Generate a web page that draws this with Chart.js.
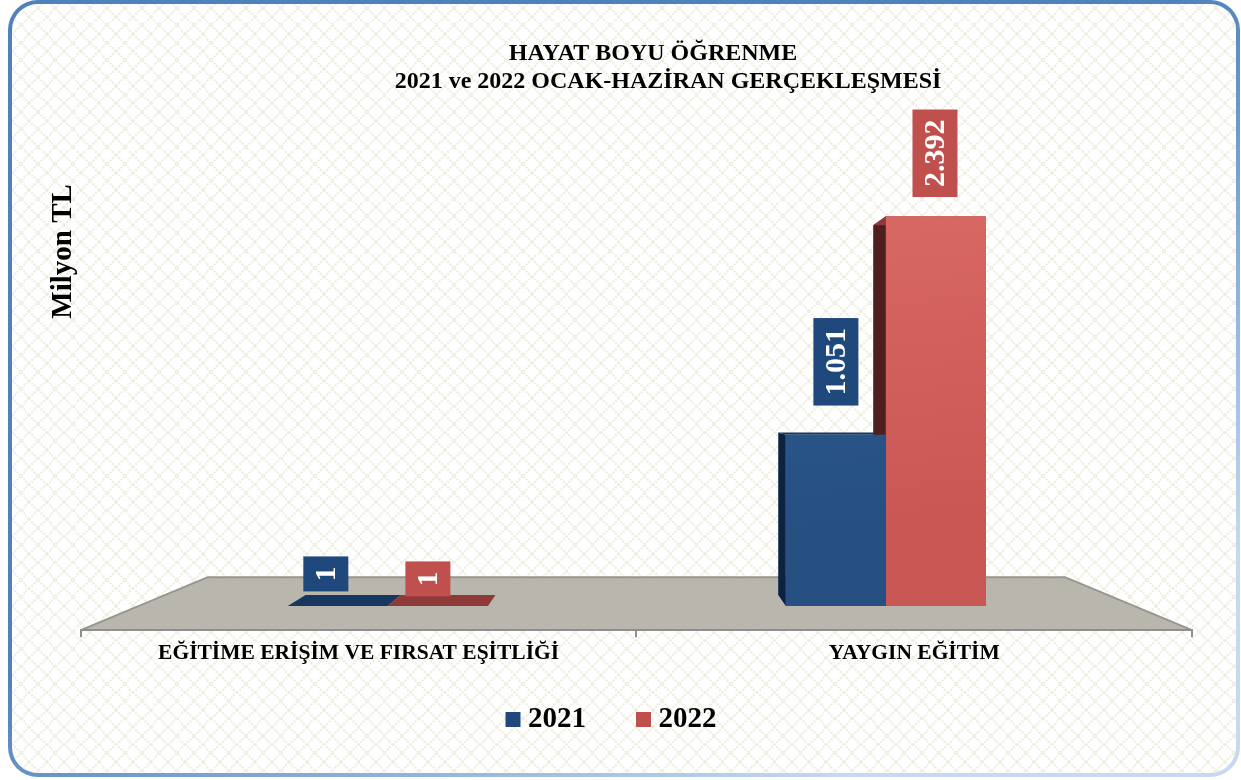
<!DOCTYPE html>
<html lang="tr">
<head>
<meta charset="utf-8">
<title>Hayat Boyu Öğrenme</title>
<script src="https://cdn.jsdelivr.net/npm/chart.js@4"></script>
<style>
html,body{margin:0;padding:0;background:#fff;width:1241px;height:780px;overflow:hidden}
#frame{position:absolute;left:8px;top:0px;width:1232px;height:777px;box-sizing:border-box;border:4px solid transparent;border-radius:30px;
background:
url("data:image/svg+xml;utf8,<svg xmlns='http://www.w3.org/2000/svg' width='17.33' height='17.33'><path d='M0 0L17.33 17.33M17.33 0L0 17.33' stroke='%23efeee0' stroke-width='2.2' stroke-dasharray='2 1.2' fill='none'/></svg>") 0px 12.7px/17.33px 17.33px repeat padding-box,
linear-gradient(#fff,#fff) padding-box,
linear-gradient(150deg,#4f81bd 0%,#4f81bd 45%,#c6d9f1 85%,#c6d9f1 100%) border-box;}
canvas{position:absolute;left:0;top:0}
</style>
</head>
<body>
<div id="frame"></div>
<canvas id="c" width="1241" height="780"></canvas>
<script>
const titleLines = ["HAYAT BOYU ÖĞRENME\u00a0\u00a0\u00a0\u00a0\u00a0", "2021 ve 2022 OCAK-HAZİRAN GERÇEKLEŞMESİ"];
const yAxisTitle = "Milyon TL";
const categories = ["EĞİTİME ERİŞİM VE FIRSAT EŞİTLİĞİ", "YAYGIN EĞİTİM"];
const seriesNames = ["2021", "2022"];
const values2021 = [1, 1051];
const values2022 = [1, 2392];

const FONT = '"Liberation Serif","Times New Roman",serif';

function pts(vals){ return categories.map((c,i)=>({x:i,y:vals[i]})); }
function fmt(v){ return String(v).replace(/\B(?=(\d{3})+$)/g,"."); }

const styles = [
  {solid:"#1f497d", top:"#17375e", side:"#0b2240", g0:"#315f96", g1:"#265082", label:"#1f497d", labelShift:[[-12,-32],[0,-73]]},
  {solid:"#c0504d", top:"#8e3a38", side:"#4f1f1e", g0:"#dc6c68", g1:"#c95753", label:"#c0504d", labelShift:[[-10,-27],[-1,-63]]}
];

function barFill(i){
  return function(ctx){
    const a = ctx.chart.chartArea;
    if(!a) return styles[i].solid;
    const g = ctx.chart.ctx.createLinearGradient(a.left,a.top+30,a.left+40,a.bottom-24);
    g.addColorStop(0,styles[i].g0); g.addColorStop(1,styles[i].g1);
    return g;
  };
}

const DEPTH = 0.051, HORIZON = 216;
function project(chart,x,y,base){
  const a = chart.chartArea, vx = (a.left+a.right)/2, vy = base-HORIZON;
  return [x+(vx-x)*DEPTH, y+(vy-y)*DEPTH];
}
function poly(ctx,p,fill){
  ctx.beginPath(); ctx.moveTo(p[0][0],p[0][1]);
  for(let i=1;i<p.length;i++) ctx.lineTo(p[i][0],p[i][1]);
  ctx.closePath(); ctx.fillStyle=fill; ctx.fill();
}

const scene = {
  id:"scene",
  afterLayout(chart){
    chart.titleBlock.left += 49; chart.titleBlock.right += 49;
    chart.legend.left -= 4.5; chart.legend.right -= 4.5;
    chart.legend.top -= 21; chart.legend.bottom -= 21;
  },
  beforeDraw(chart){
    const c = chart.ctx, a = chart.chartArea, b = a.bottom;
    c.save();
    const f = [[a.left,b],[a.right,b],[a.right-127,b-53],[a.left+127,b-53]];
    poly(c,f,"#b9b6ae");
    c.strokeStyle="#97958f"; c.lineWidth=2;
    c.beginPath(); c.moveTo(f[0][0],f[0][1]); c.lineTo(f[3][0],f[3][1]); c.lineTo(f[2][0],f[2][1]); c.lineTo(f[1][0],f[1][1]); c.stroke();
    c.restore();
  },
  beforeDatasetsDraw(chart){
    const c = chart.ctx;
    c.save();
    chart.data.datasets.forEach((d,i)=>{
      chart.getDatasetMeta(i).data.forEach(el=>{
        const l = el.x-el.width/2, r = el.x+el.width/2, t = el.y, b = el.base;
        const tl = project(chart,l,t,b), tr = project(chart,r,t,b), bl = project(chart,l,b,b);
        poly(c,[[l,t],tl,bl,[l,b]],styles[i].side);
        poly(c,[[l,t],[r,t],tr,tl],styles[i].top);
      });
    });
    c.restore();
  },
  afterDatasetsDraw(chart){
    const c = chart.ctx;
    c.save();
    chart.data.datasets.forEach((d,i)=>{
      chart.getDatasetMeta(i).data.forEach((el,j)=>{
        const s = styles[i].labelShift[j], cx = el.x+s[0], cy = el.y+s[1], txt = fmt(d.data[j].y);
        c.font = 'bold 30px '+FONT;
        const w = c.measureText(txt).width, h = w+20;
        c.fillStyle = styles[i].label;
        c.fillRect(cx-22.5,cy-h/2,45,h);
        c.translate(cx,cy); c.rotate(-Math.PI/2);
        c.fillStyle="#fff"; c.textAlign="center"; c.textBaseline="middle";
        c.fillText(txt,0,1);
        c.setTransform(1,0,0,1,0,0);
      });
    });
    c.restore();
  }
};

new Chart(document.getElementById("c"),{
  type:"bar",
  data:{
    labels:categories,
    datasets:[
      {label:seriesNames[0],data:pts(values2021),xAxisID:"xBars",yAxisID:"y",backgroundColor:barFill(0),borderWidth:0,categoryPercentage:0.654,barPercentage:1},
      {label:seriesNames[1],data:pts(values2022),xAxisID:"xBars",yAxisID:"y",backgroundColor:barFill(1),borderWidth:0,categoryPercentage:0.654,barPercentage:1}
    ]
  },
  options:{
    responsive:false,
    animation:false,
    layout:{padding:{left:46,right:49,top:40,bottom:15}},
    scales:{
      x:{type:"category",position:"bottom",offset:true,
        grid:{offset:true,drawOnChartArea:false,drawTicks:true,tickLength:7,color:"#8f8f8f",lineWidth:2},
        border:{color:"#8f8f8f",width:2},
        ticks:{color:"#000",font:{family:FONT,size:21.5,weight:"bold"},padding:3,maxRotation:0,autoSkip:false}},
      xBars:{type:"linear",axis:"x",display:false,min:-0.6165,max:1.6145,offset:false,grid:{display:false},ticks:{stepSize:1}},
      y:{type:"linear",position:"left",min:-148,max:2589,
        grid:{display:false,drawTicks:false},border:{display:false},
        ticks:{display:false},
        title:{display:true,text:yAxisTitle,align:"end",color:"#000",font:{family:FONT,size:29,weight:"bold"},padding:{top:0,bottom:0}}}
    },
    plugins:{
      title:{display:true,text:titleLines,color:"#000",font:{family:FONT,size:24,weight:"bold",lineHeight:1.17},padding:{top:0,bottom:88}},
      legend:{display:true,position:"bottom",padding:0,
        labels:{usePointStyle:true,pointStyle:"rect",boxWidth:1,boxHeight:15,padding:57,color:"#000",font:{family:FONT,size:29,weight:"bold"},
          generateLabels(chart){
            return Chart.defaults.plugins.legend.labels.generateLabels(chart).map((it,i)=>Object.assign(it,{fillStyle:styles[i].solid,strokeStyle:styles[i].solid,lineWidth:0,pointStyle:"rect"}));
          }}},
      tooltip:{enabled:false}
    }
  },
  plugins:[scene]
});
</script>
</body>
</html>
